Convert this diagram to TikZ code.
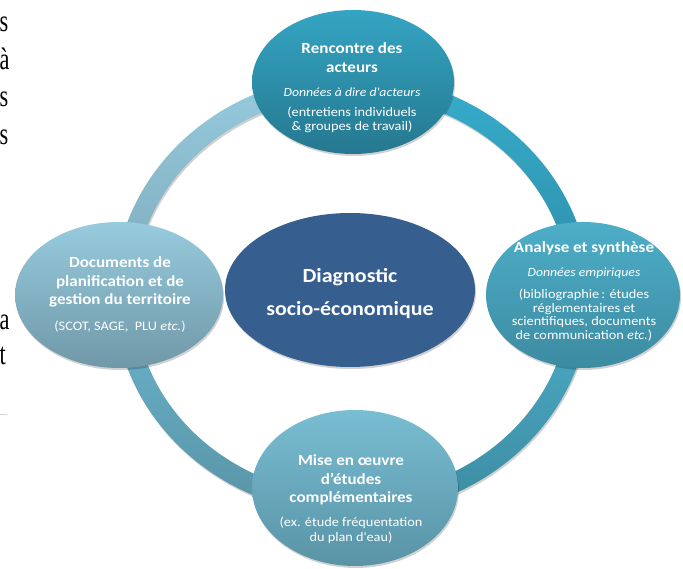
\documentclass[tikz,border=0pt]{standalone}
\usepackage{fontspec}
\setmainfont{Carlito}[FakeStretch=1.1]
\newfontfamily\pagefont{Liberation Serif}[FakeStretch=0.72]
\usepackage{tikz}
\usetikzlibrary{shapes.geometric,shadows}
\definecolor{ulA}{HTML}{97CBDE}\definecolor{ulB}{HTML}{7CA9BA}
\definecolor{urA}{HTML}{37ADCD}\definecolor{urB}{HTML}{2C8DA8}
\definecolor{lrA}{HTML}{4DAEC8}\definecolor{lrB}{HTML}{3C8BA1}
\definecolor{llA}{HTML}{6AB6CD}\definecolor{llB}{HTML}{5993A6}
\definecolor{diag}{HTML}{365E8F}
\newcommand\ringpart[4]{\path[top color=#3, bottom color=#4, softshadow]
  ([shift={(#1:238 and 220)}]ring) arc[start angle=#1, end angle=#2, x radius=238pt, y radius=220pt]
  -- ([shift={(#2:218 and 200)}]ring) arc[start angle=#2, end angle=#1, x radius=218pt, y radius=200pt] -- cycle;}
\newcommand\titlefont{\fontsize{15.5}{19}\selectfont\bfseries}
\newcommand\datafont{\fontsize{12.5}{15}\selectfont\itshape}
\newcommand\notefont{\fontsize{13}{14}\selectfont}
\newcommand\bigfont{\fontsize{20}{33}\selectfont\bfseries}
\tikzset{
  softshadow/.style={drop shadow={shadow xshift=1pt, shadow yshift=-2pt, opacity=.18, fill=black}},
  bubble/.style={ellipse, inner sep=0pt, softshadow},
  title/.style={align=center, text=white, inner sep=0pt, font=\titlefont},
  data/.style={align=center, text=white, inner sep=0pt, font=\datafont},
  note/.style={align=center, text=white, inner sep=0pt, font=\notefont},
  pagetxt/.style={anchor=base west, inner sep=0pt, font=\pagefont\fontsize{31}{37}\selectfont}
}

\begin{document}
\begin{tikzpicture}[x=1pt,y=1pt]
\useasboundingbox (0,0) rectangle (683,568);
\clip (0,0) rectangle (683,568);
% ends of the page text on the left
\foreach \ch/\y in {s/536,à/498,s/461,s/423,a/238,t/203} \node[pagetxt] (page\y) at (-0.5,\y) {\ch};
\draw[gray!35, line width=1] (0,153) -- (7,153);
% ring
\coordinate (ring) at (352,273);
\ringpart{90}{180}{ulA}{ulB}
\ringpart{0}{90}{urA}{urB}
\ringpart{270}{360}{lrA}{lrB}
\ringpart{180}{270}{llA}{llB}
% bubbles
\node[bubble, top color=urA!95!black, bottom color=urB!85!black, minimum width=202, minimum height=144] (rencontre) at (353,486) {};
\node[bubble, top color=lrA, bottom color=lrB, minimum width=194, minimum height=146] (analyse) at (583,273) {};
\node[bubble, top color=ulA, bottom color=ulB!90!black, minimum width=208, minimum height=146] (documents) at (119,273) {};
\node[bubble, top color=llA!90!white, bottom color=llB, minimum width=206, minimum height=156] (etudes) at (355,80) {};
\node[bubble, fill=diag, minimum width=250, minimum height=154] (diagnostic) at (350,278) {};
% texts
\node[title] (rencontre-t) at (352,510.5) {Rencontre des\\acteurs};
\node[data] (rencontre-d) at (352,476) {Données à dire d\textquotesingle acteurs};
\node[note] (rencontre-n) at (352,448) {(entretiens individuels\\\& groupes de travail)};
\node[title] (analyse-t) at (584,320) {Analyse et synthèse};
\node[data] (analyse-d) at (584,295) {Données empiriques};
\node[note, font=\fontsize{13}{13.5}\selectfont] (analyse-n) at (584,253) {(bibliographie\,: études\\réglementaires et\\scientifiques, documents\\de communication \textit{etc.})};
\node[title, font=\fontsize{15.5}{18.5}\selectfont\bfseries] (documents-t) at (120,286) {Documents de\\planification et de\\gestion du territoire};
\node[note] (documents-n) at (120,241) {(SCOT, SAGE,~ PLU \textit{etc.})};
\node[title, font=\fontsize{15.5}{18.5}\selectfont\bfseries] (etudes-t) at (351,88) {Mise en œuvre\\d’études\\complémentaires};
\node[note, font=\fontsize{13}{15}\selectfont] (etudes-n) at (351,38) {(ex. étude fréquentation\\du plan d\textquotesingle eau)};
\node[align=center, text=white, inner sep=0pt, font=\bigfont] (diagnostic-t) at (350,274.5) {Diagnostic\\socio-économique};
\end{tikzpicture}
\end{document}
